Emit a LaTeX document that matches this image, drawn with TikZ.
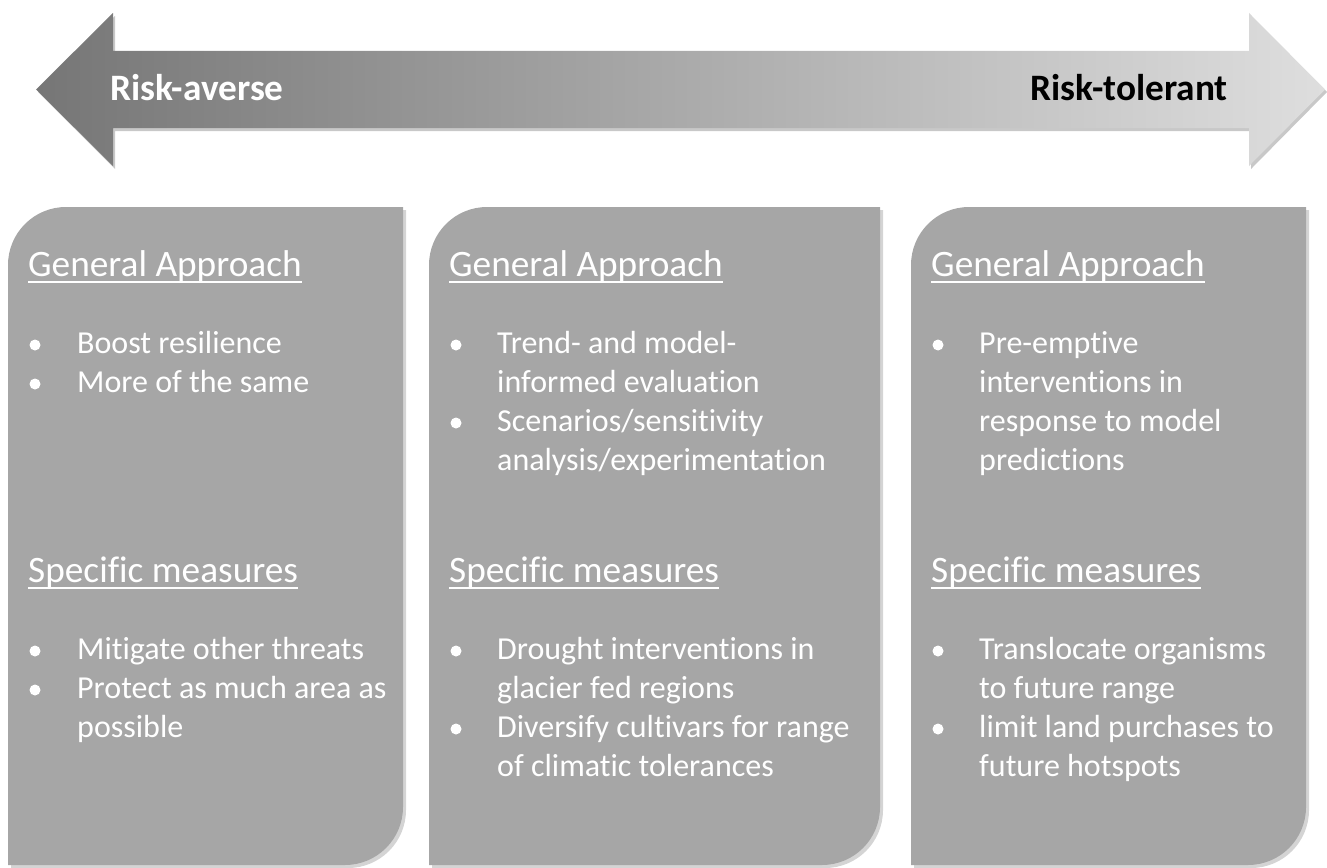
\documentclass[tikz,border=0pt]{standalone}
\usepackage{fontspec}
\setmainfont{Carlito}[Ligatures={NoCommon,NoContextual}]
\definecolor{boxgray}{RGB}{166,166,166}
\definecolor{shadowgray}{RGB}{212,212,212}
\definecolor{arrowdark}{RGB}{118,118,118}
\definecolor{arrowlight}{RGB}{222,222,222}
\definecolor{arrowshadow}{RGB}{200,200,200}
\tikzset{
  headtext/.style={anchor=base west, inner sep=0pt, text=white, font=\fontsize{37.3}{45}\selectfont},
  bullettext/.style={anchor=base west, inner sep=0pt, text=white, text width=420pt, align=flush left, font=\fontsize{32}{39}\selectfont},
  arrowtext/.style={inner sep=0pt, font=\fontsize{37.3}{45}\selectfont\bfseries},
  uline/.style={white, line width=1.8pt},
  boxfill/.style={fill=boxgray},
  boxshadow/.style={fill=shadowgray},
  dot/.style={fill=white}
}
\newcommand{\panelshape}[2]{% left, right
  (#1,865) -- (#1,265) arc[start angle=180,end angle=270,radius=58] -- (#2,207) -- (#2,807) arc[start angle=0,end angle=90,radius=58] -- cycle}
\begin{document}
\begin{tikzpicture}[x=1pt,y=-1pt]
\useasboundingbox (0,0) rectangle (1327,867);
% arrow
\fill[arrowshadow] (38,92) -- (115,16) -- (115,54) -- (1251,54) -- (1251,16) -- (1327,92) -- (1251,169) -- (1251,131) -- (115,131) -- (115,169) -- cycle;
\shade[left color=arrowdark, right color=arrowlight] (36,89.5) -- (113,13) -- (113,51) -- (1249,51) -- (1249,13) -- (1325,89.5) -- (1249,166) -- (1249,128) -- (113,128) -- (113,166) -- cycle;
\node[arrowtext, text=white, anchor=base west] (averse) at (110,100) {Risk-averse};
\node[arrowtext, text=black, anchor=base east] (tolerant) at (1228,100) {Risk-tolerant};
% panels
\begin{scope}[shift={(3,3)}]
\fill[boxshadow] \panelshape{8}{403};
\fill[boxshadow] \panelshape{429}{880};
\fill[boxshadow] \panelshape{911}{1306};
\end{scope}
\fill[boxfill] \panelshape{8}{403};
\fill[boxfill] \panelshape{429}{880};
\fill[boxfill] \panelshape{911}{1306};
% panel 1
\node[headtext] (ga1) at (28,276) {General Approach};
\draw[uline] ([yshift=-6pt]ga1.base west) -- ([yshift=-6pt]ga1.base east);
\fill[dot] (35,345) circle[radius=5.5];
\node[bullettext] (b11) at (77,353) {Boost resilience};
\fill[dot] (35,384) circle[radius=5.5];
\node[bullettext] (b12) at (77,392) {More of the same};
\node[headtext] (sm1) at (28,582) {Specific measures};
\draw[uline] ([yshift=-6pt]sm1.base west) -- ([yshift=-6pt]sm1.base east);
\fill[dot] (35,651) circle[radius=5.5];
\node[bullettext] (b13) at (77,659) {Mitigate other threats};
\fill[dot] (35,690) circle[radius=5.5];
\node[bullettext] (b14) at (77,698) {Protect as much area as\\possible};
% panel 2
\node[headtext] (ga2) at (449,276) {General Approach};
\draw[uline] ([yshift=-6pt]ga2.base west) -- ([yshift=-6pt]ga2.base east);
\fill[dot] (456,345) circle[radius=5.5];
\node[bullettext] (b21) at (497,353) {Trend- and model-\\informed evaluation};
\fill[dot] (456,423) circle[radius=5.5];
\node[bullettext] (b22) at (497,431) {Scenarios/sensitivity\\analysis/experimentation};
\node[headtext] (sm2) at (449,582) {Specific measures};
\draw[uline] ([yshift=-6pt]sm2.base west) -- ([yshift=-6pt]sm2.base east);
\fill[dot] (456,651) circle[radius=5.5];
\node[bullettext] (b23) at (497,659) {Drought interventions in\\glacier fed regions};
\fill[dot] (456,729) circle[radius=5.5];
\node[bullettext] (b24) at (497,737) {Diversify cultivars for range\\of climatic tolerances};
% panel 3
\node[headtext] (ga3) at (931,276) {General Approach};
\draw[uline] ([yshift=-6pt]ga3.base west) -- ([yshift=-6pt]ga3.base east);
\fill[dot] (938,345) circle[radius=5.5];
\node[bullettext] (b31) at (979,353) {Pre-emptive\\interventions in\\response to model\\predictions};
\node[headtext] (sm3) at (931,582) {Specific measures};
\draw[uline] ([yshift=-6pt]sm3.base west) -- ([yshift=-6pt]sm3.base east);
\fill[dot] (938,651) circle[radius=5.5];
\node[bullettext] (b32) at (979,659) {Translocate organisms\\to future range};
\fill[dot] (938,729) circle[radius=5.5];
\node[bullettext] (b33) at (979,737) {limit land purchases to\\future hotspots};
\end{tikzpicture}
\end{document}
